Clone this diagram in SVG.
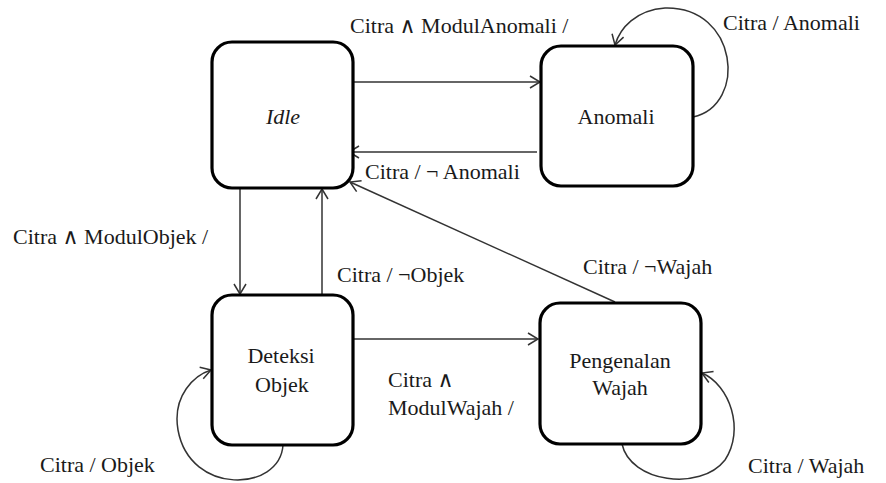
<svg xmlns="http://www.w3.org/2000/svg" width="886" height="483" viewBox="0 0 886 483">
<defs>
<marker id="arr" markerWidth="14" markerHeight="14" refX="11" refY="7" orient="auto" markerUnits="userSpaceOnUse">
<path d="M1,1 L11,7 L1,13" fill="none" stroke="#333" stroke-width="1.5"/>
</marker>
<style>
.box{fill:#fff;stroke:#000;stroke-width:3.2}
.ctr{text-anchor:middle}
.edge{fill:none;stroke:#333;stroke-width:1.5;marker-end:url(#arr)}
</style>
</defs>
<rect width="886" height="483" fill="#fff"/>
<g font-family="Liberation Serif, Noto Serif, DejaVu Serif, Times, serif" font-size="22" fill="#1a1a1a">
<g id="connectors">
<path class="edge" d="M353,82 H540"/>
<path class="edge" d="M537,152 H349"/>
<path class="edge" d="M240,188 V294"/>
<path class="edge" d="M322,295 V189"/>
<path class="edge" d="M353,339 H538"/>
<path class="edge" d="M615,302 L350,182"/>
<path class="edge" d="M693,117 C748,105 738,6 665,8 C636,10 620,28 615,45"/>
<path class="edge" d="M283,445 C280,492 190,496 178,430 C172,395 195,375 211,370"/>
<path class="edge" d="M622,444 C630,482 700,492 725,460 C745,430 730,385 702,373"/>
<text x="350" y="33">Citra ∧ ModulAnomali /</text>
<text x="723" y="30">Citra / Anomali</text>
<text x="365" y="179">Citra / ¬ Anomali</text>
<text x="13" y="244">Citra ∧ ModulObjek /</text>
<text x="337" y="282">Citra / ¬Objek</text>
<text x="583" y="274">Citra / ¬Wajah</text>
<text x="388" y="387">Citra ∧</text>
<text x="388" y="415">ModulWajah /</text>
<text x="40" y="472">Citra / Objek</text>
<text x="748" y="473">Citra / Wajah</text>
</g>
<g id="idle">
<rect class="box" x="212" y="42" width="141" height="146" rx="20"/>
<text class="ctr" x="283" y="124" font-style="italic">Idle</text>
</g>
<g id="anomali">
<rect class="box" x="541" y="46" width="152" height="140" rx="20"/>
<text class="ctr" x="616" y="124">Anomali</text>
</g>
<g id="deteksi">
<rect class="box" x="212" y="295" width="141" height="150" rx="20"/>
<text class="ctr" x="281" y="363">Deteksi</text>
<text class="ctr" x="282" y="392">Objek</text>
</g>
<g id="pengenalan">
<rect class="box" x="540" y="303" width="161" height="141" rx="20"/>
<text class="ctr" x="620" y="368">Pengenalan</text>
<text class="ctr" x="620" y="395">Wajah</text>
</g>
</g>
</svg>
